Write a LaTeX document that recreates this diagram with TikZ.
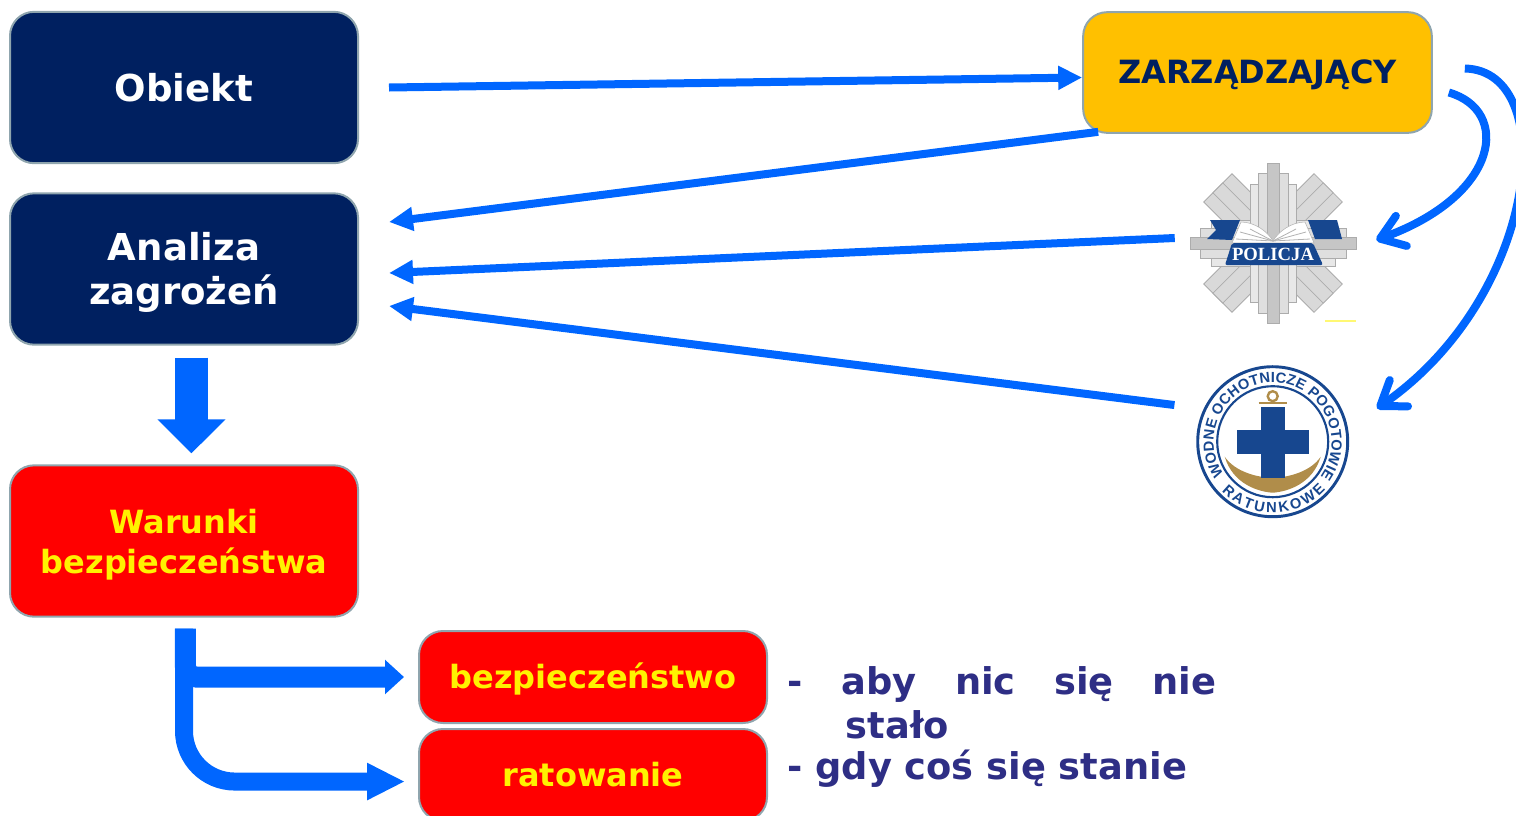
\documentclass[tikz,border=0pt]{standalone}
\usepackage{fontspec}
\setmainfont{DejaVu Sans}
\newfontfamily\badgefont{Liberation Serif}
\newfontfamily\ringfont{Liberation Sans}
\usetikzlibrary{arrows.meta,decorations.text}

\definecolor{navybox}{HTML}{002060}
\definecolor{boxline}{HTML}{8FA5AE}
\definecolor{arrowblue}{HTML}{0066FF}
\definecolor{amber}{HTML}{FFC000}
\definecolor{inkblue}{HTML}{2E2E85}
\definecolor{badgeblue}{HTML}{17478F}
\definecolor{anchorgold}{HTML}{B08D4A}
\newcommand{\lift}[1]{\rule{0pt}{#1}}

\begin{document}
\begin{tikzpicture}[x=.75pt,y=-.75pt]
        \tikzstyle{box}=[draw=boxline,line width=1.5pt,rounded corners=18pt,inner sep=0pt,minimum width=261pt,align=center,font=\bfseries]
        \tikzstyle{navy}=[box,fill=navybox,text=white,minimum height=113.5pt]
        \tikzstyle{alarm}=[box,fill=red,text=yellow]
        \tikzstyle{thin}=[arrowblue,line width=6pt,-{Triangle[length=18pt,width=17pt]}]
        \tikzstyle{curved}=[arrowblue,line width=6pt,-{Straight Barb[length=17pt,width=24pt,round]}]
        \tikzstyle{note}=[text=inkblue,font=\bfseries\fontsize{27.6}{33}\selectfont,inner sep=0pt,anchor=west,align=left]
        \tikzstyle{ray}=[fill=gray!30,draw=gray!65,line width=.6pt]

        \clip (0,0) rectangle (1516,815);

        \node [navy,font=\bfseries\fontsize{27.8}{33}\selectfont] at (184,87.5) (obiekt) {Obiekt};
        \node [navy,font=\bfseries\fontsize{27.8}{33}\selectfont] at (184,269) (analiza) {\lift{26.9pt}Analiza\\zagrożeń};
        \node [alarm,minimum height=113.5pt,font=\bfseries\fontsize{24}{30}\selectfont] at (184,541) (warunki) {\lift{24.2pt}Warunki\\bezpieczeństwa};
        \node [box,fill=amber,text=navybox,minimum height=90.5pt,minimum width=261.5pt,font=\bfseries\fontsize{24}{30}\selectfont] at (1257.5,72.5) (zarzadzajacy) {\lift{22pt}ZARZĄDZAJĄCY};
        \node [alarm,minimum height=69pt,font=\bfseries\fontsize{24}{30}\selectfont] at (593,677) (bezpieczenstwo) {\lift{22.7pt}bezpieczeństwo};
        \node [alarm,minimum height=69pt,font=\bfseries\fontsize{24}{30}\selectfont] at (593,775) (ratowanie) {ratowanie};

        \node [note] at (787,703) (cel) {\makebox[321.75pt][s]{-\hfill aby\hfill nic\hfill się\hfill nie}\\\hspace*{44pt}stało};
        \node [note] at (787,769) (gdy) {- gdy coś się stanie};

        % police badge
        \node [minimum width=126pt,minimum height=120pt,inner sep=0pt] at (1273,243) (policja) {};
        \foreach \ang in {45,135} {
            \begin{scope}[rotate around={\ang:(1273,243)}]
                \draw [ray] (1195,223) rectangle (1351,263);
                \draw [ray] (1195,236) rectangle (1351,250);
            \end{scope}
        };
        \foreach \ang/\len in {0/83,90/80} {
            \begin{scope}[rotate around={\ang:(1273,243)}]
                \draw [ray,fill=gray!18] (1273-\len+21,220) rectangle (1273+\len-21,266);
                \draw [ray,fill=gray!25] (1273-\len+10,228) rectangle (1273+\len-10,258);
                \draw [ray,fill=gray!45] (1273-\len,237) rectangle (1273+\len,249);
            \end{scope}
        };
        \fill [white,draw=gray!60] (1241,222) .. controls (1255,222) and (1268,232) .. (1273,241) .. controls (1278,232) and (1291,222) .. (1305,222) -- (1314,243) -- (1232,243) -- cycle;
        \foreach \xa/\ya in {1240/232,1250/229,1296/229,1306/232,1236/239,1310/239} {
            \draw [gray!60,line width=.6pt] (1273,241) -- (\xa,\ya);
        };
        \fill [badgeblue] (1210,220) -- (1240,220) -- (1232,240) -- (1207,239) -- (1216,230) -- cycle;
        \fill [badgeblue] (1308,220) -- (1337,220) -- (1342,239) -- (1315,239) -- cycle;
        \fill [badgeblue,rounded corners=1.5pt] (1232,243) -- (1313,243) -- (1323,265) -- (1225,265) -- cycle;
        \node [text=white,inner sep=0pt,font=\badgefont\bfseries\fontsize{14}{14}\selectfont] at (1273,254) (napis) {POLICJA};
        \fill [yellow!55] (1325,320) rectangle (1356,322);

        % rescue badge
        \node [circle,minimum size=114pt,inner sep=0pt] at (1272.7,441.7) (wopr) {};
        \begin{scope}[shift={(1272.7,441.7)},y=.75pt]
            \draw [badgeblue,line width=2.2pt] (0,0) circle (75);
            \draw [badgeblue,line width=1.6pt] (0,0) circle (55.5);
            \path [decorate,decoration={text along path,text align=fit to path,text color=badgeblue,
                text={|\ringfont\bfseries\fontsize{11}{11}\selectfont|WODNE OCHOTNICZE POGOTOWIE}}]
                (214:59) arc (214:-36:59);
            \path [decorate,decoration={text along path,text align=fit to path,text color=badgeblue,
                text={|\ringfont\bfseries\fontsize{11}{11}\selectfont|RATUNKOWE}}]
                (224:71) arc (224:318:71);
            \fill [anchorgold] (-48,-15) .. controls (-40,-42) and (-15,-50) .. (0,-51) .. controls (15,-50) and (40,-42) .. (48,-15) .. controls (38,-30) and (15,-36) .. (0,-36) .. controls (-15,-36) and (-38,-30) .. (-48,-15) -- cycle;
            \draw [anchorgold,line width=1.8pt] (0,45.5) circle (5);
            \draw [anchorgold,line width=1.8pt] (-14,39) -- (14,39);
            \fill [badgeblue] (-12,34.5) rectangle (12,-36.5);
            \fill [badgeblue] (-36,11.5) rectangle (36,-12.5);
        \end{scope}

        \draw [thin] ([xshift=22.5pt]obiekt.east) to ([yshift=-3.75pt]zarzadzajacy.west);   % 1 to manager
        \draw [thin] ([xshift=12pt,yshift=1.5pt]zarzadzajacy.south west) to ([xshift=22.5pt,yshift=35.25pt]analiza.east);
        \draw [thin] ([xshift=-10.5pt,yshift=3.75pt]policja.west) to ([xshift=22.5pt,yshift=-3pt]analiza.east);
        \draw [thin] ([xshift=-16.5pt,yshift=27.5pt]wopr.west) to ([xshift=22.5pt,yshift=-27.75pt]analiza.east);

        \draw [curved] ([xshift=12pt,yshift=-15pt]zarzadzajacy.east) .. controls +(62,18) and +(124,-45) .. ([xshift=14.25pt,yshift=2.25pt]policja.east);
        \draw [curved] ([xshift=24pt,yshift=3pt]zarzadzajacy.east) .. controls +(96,2) and +(163,-113) .. ([xshift=21pt,yshift=25pt]wopr.east);

        \draw [arrowblue,line width=24.75pt,-{Triangle[length=25.5pt,width=49.5pt]}] ([xshift=5.6pt,yshift=-9pt]analiza.south) to ([xshift=5.6pt,yshift=8.25pt]warunki.north);
        \draw [arrowblue,line width=13.5pt,rounded corners=38pt,-{Triangle[length=28.5pt,width=26pt]}] ([yshift=-8.25pt]warunki.south) |- ([xshift=-9.75pt,yshift=-4.9pt]ratowanie.west);
        \draw [arrowblue,line width=15.75pt,rounded corners=8pt,-{Triangle[length=14.25pt,width=25pt]}] ([xshift=1.1pt,yshift=-8.25pt]warunki.south) |- ([xshift=-10.5pt]bezpieczenstwo.west);

\end{tikzpicture}
\end{document}
